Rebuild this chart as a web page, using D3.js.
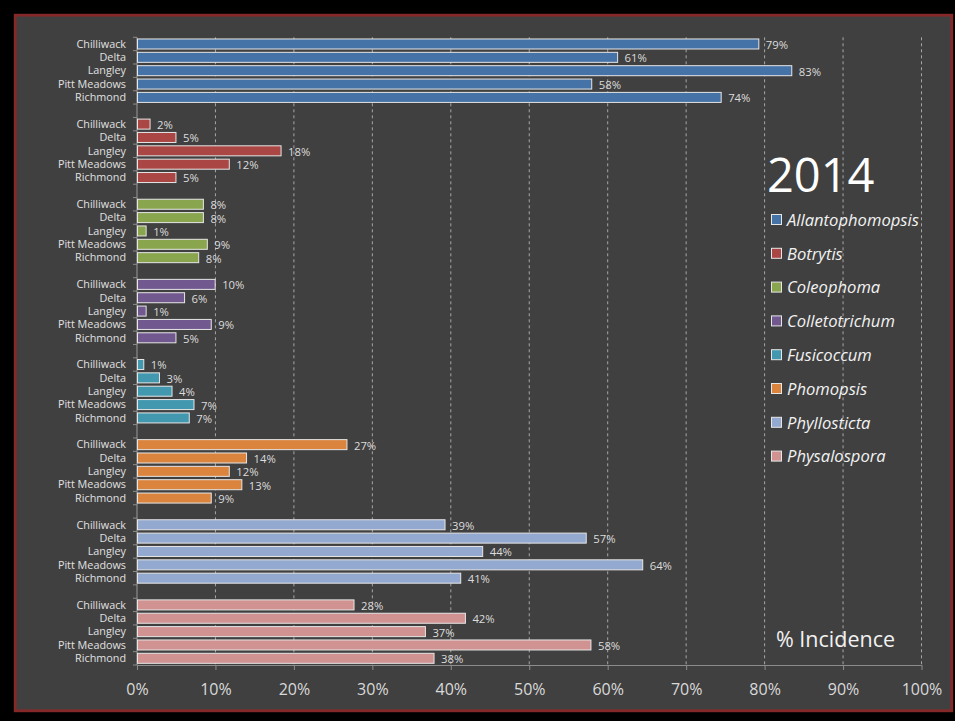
<!DOCTYPE html>
<html>
<head>
<meta charset="utf-8">
<script src="https://cdn.jsdelivr.net/npm/d3@7"></script>
<style>
  html, body { margin: 0; padding: 0; background: #000; }
  svg { display: block; }
  text { font-family: "Open Sans", "DejaVu Sans", sans-serif; }
</style>
</head>
<body>
<svg id="chart" width="955" height="721"></svg>
<script>
// ---- Data ----
const cities = ["Chilliwack", "Delta", "Langley", "Pitt Meadows", "Richmond"];
const species = ["Allantophomopsis", "Botrytis", "Coleophoma", "Colletotrichum",
                 "Fusicoccum", "Phomopsis", "Phyllosticta", "Physalospora"];
const allantophomopsis = [79.2, 61.2, 83.4, 57.9, 74.4];
const botrytis         = [1.6, 4.9, 18.3, 11.7, 4.9];
const coleophoma       = [8.4, 8.4, 1.1, 8.9, 7.8];
const colletotrichum   = [9.9, 6.0, 1.1, 9.4, 4.9];
const fusicoccum       = [0.8, 2.8, 4.4, 7.2, 6.6];
const phomopsis        = [26.7, 13.9, 11.7, 13.3, 9.4];
const phyllosticta     = [39.2, 57.2, 44.0, 64.4, 41.2];
const physalospora     = [27.6, 41.8, 36.7, 57.8, 37.8];
const xTicks = [0, 10, 20, 30, 40, 50, 60, 70, 80, 90, 100];
const colors = ["#4572A7", "#AA4643", "#89A54E", "#71588F",
                "#4198AF", "#DB843D", "#93A9CF", "#D19392"];

const seriesValues = [allantophomopsis, botrytis, coleophoma, colletotrichum,
                      fusicoccum, phomopsis, phyllosticta, physalospora];

// ---- Build rows (with blank gap rows between groups) ----
const rows = [];
const keys = [];
species.forEach((sp, si) => {
  if (si > 0) keys.push("gap" + si);
  cities.forEach((c, ci) => {
    const key = sp + "|" + c;
    keys.push(key);
    rows.push({ key, species: sp, city: c, value: seriesValues[si][ci], si });
  });
});

const svg = d3.select("#chart");

// Panel
svg.append("rect").attr("x", 0).attr("y", 0).attr("width", 955).attr("height", 721).attr("fill", "#000");
svg.append("rect")
  .attr("x", 15.2).attr("y", 15.2).attr("width", 936.6).attr("height", 695.6)
  .attr("fill", "#404040").attr("stroke", "#862828").attr("stroke-width", 2.8);

const x0 = 137, x1 = 921.5, yTop = 37.3, yBot = 665;
const x = d3.scaleLinear().domain([0, 100]).range([x0, x1]);
const y = d3.scaleBand().domain(keys).range([yTop, yBot]).paddingInner(0.25).paddingOuter(0.125);
const step = y.step();

// Gridlines
svg.append("g").selectAll("line").data(xTicks.filter(t => t > 0)).join("line")
  .attr("x1", d => x(d)).attr("x2", d => x(d))
  .attr("y1", yTop).attr("y2", yBot)
  .attr("stroke", "#a6a6a6").attr("stroke-width", 1)
  .attr("stroke-dasharray", "3,3");

// Bottom axis
const xAxis = d3.axisBottom(x).tickValues(xTicks).tickFormat(d => d + "%").tickSize(5).tickPadding(14);
const gx = svg.append("g").attr("transform", `translate(0,${yBot})`).call(xAxis);
gx.select(".domain").attr("stroke", "#8c8c8c").attr("stroke-width", 1.2).attr("d", `M${x0},0.5H${x1}`);
gx.selectAll(".tick line").attr("stroke", "#8c8c8c");
gx.selectAll(".tick text").attr("fill", "#d9d9d9").attr("font-size", "16px")
  .attr("font-family", "'Open Sans', sans-serif");

// Left axis line and tick marks at band boundaries
svg.append("line").attr("x1", x0).attr("x2", x0).attr("y1", yTop).attr("y2", yBot)
  .attr("stroke", "#8c8c8c").attr("stroke-width", 1.2);
svg.append("g").selectAll("line").data(d3.range(keys.length + 1)).join("line")
  .attr("x1", x0 - 4).attr("x2", x0)
  .attr("y1", i => yTop + i * step).attr("y2", i => yTop + i * step)
  .attr("stroke", "#8c8c8c").attr("stroke-width", 1);

// Bars
svg.append("g").selectAll("rect").data(rows).join("rect")
  .attr("x", x(0) + 0.5)
  .attr("y", d => y(d.key))
  .attr("width", d => x(d.value) - x(0))
  .attr("height", y.bandwidth())
  .attr("fill", d => colors[d.si])
  .attr("stroke", "#e6e6e6").attr("stroke-width", 1);

// Category labels
svg.append("g").selectAll("text").data(rows).join("text")
  .attr("x", 126)
  .attr("y", d => y(d.key) + y.bandwidth() / 2)
  .attr("dy", "0.35em")
  .attr("text-anchor", "end")
  .attr("font-size", "10.8px")
  .attr("fill", "#e0e0e0")
  .text(d => d.city);

// Value labels
svg.append("g").selectAll("text").data(rows).join("text")
  .attr("x", d => x(d.value) + 7.5)
  .attr("y", d => y(d.key) + y.bandwidth() / 2 + 1)
  .attr("dy", "0.35em")
  .attr("font-size", "11.3px")
  .attr("fill", "#dcdcdc")
  .text(d => Math.round(d.value) + "%");

// Title "2014"
svg.append("text").attr("x", 767).attr("y", 192)
  .attr("font-size", "47px").attr("fill", "#ffffff").text("2014");

// Legend
const lg = svg.append("g");
species.forEach((sp, i) => {
  const cy = 220 + i * 33.8;
  lg.append("rect").attr("x", 771.5).attr("y", cy - 5.5).attr("width", 10).attr("height", 10)
    .attr("fill", colors[i]).attr("stroke", "#e6e6e6").attr("stroke-width", 1);
  lg.append("text").attr("x", 787).attr("y", cy).attr("dy", "0.35em")
    .attr("font-size", "16.6px").attr("font-style", "italic").attr("fill", "#f2f2f2").text(sp);
});

// "% Incidence"
svg.append("text").attr("x", 776).attr("y", 647)
  .attr("font-size", "21.5px").attr("fill", "#f2f2f2").text("% Incidence");
</script>
</body>
</html>
